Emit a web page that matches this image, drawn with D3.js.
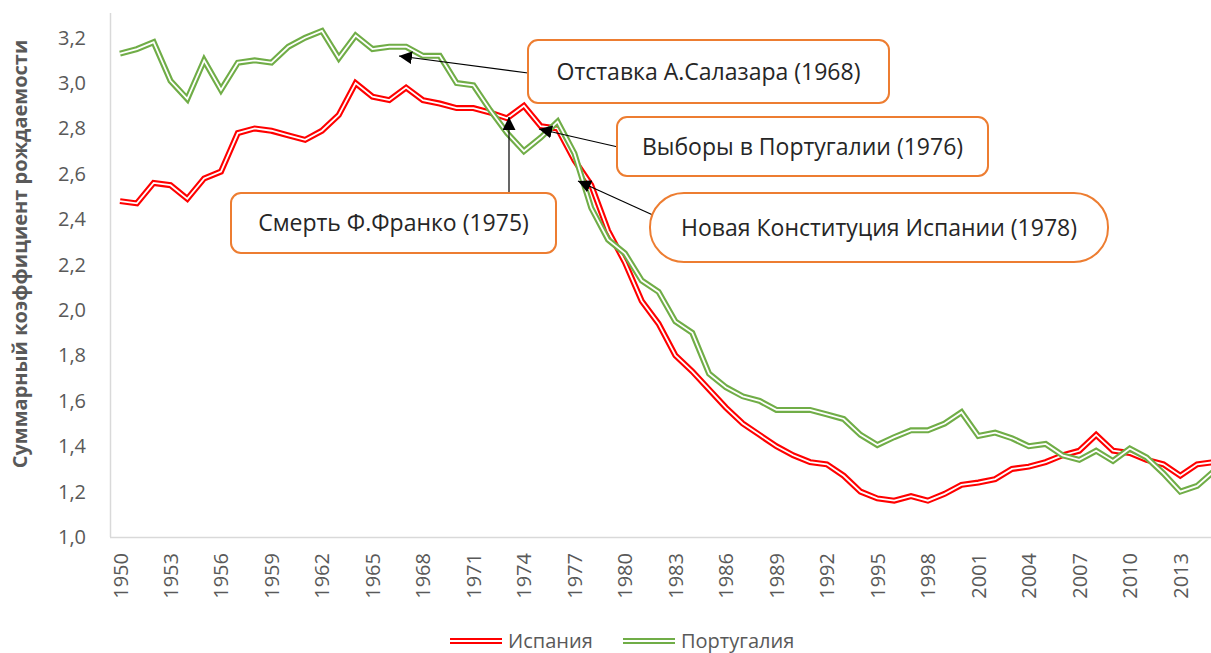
<!DOCTYPE html>
<html>
<head>
<meta charset="utf-8">
<script src="https://cdn.jsdelivr.net/npm/d3@7"></script>
<style>
  body { margin: 0; background: #fff; }
  svg { display: block; font-family: "Open Sans", sans-serif; }
</style>
</head>
<body>
<div id="chart"></div>
<script>
const width = 1211;
const height = 653;

// data
const years = d3.range(1950, 2016);
const spain = [
    2.48, 2.47, 2.56, 2.55, 2.49, 2.58, 2.61, 2.78, 2.80, 2.79,
    2.77, 2.75, 2.79, 2.86, 3.00, 2.94, 2.925, 2.98, 2.925, 2.91,
    2.89, 2.89, 2.87, 2.845, 2.90, 2.81, 2.80, 2.66, 2.55, 2.35,
    2.21, 2.04, 1.94, 1.80, 1.73, 1.65, 1.57, 1.50, 1.45, 1.40,
    1.36, 1.33, 1.32, 1.27, 1.20, 1.17, 1.16, 1.18, 1.16, 1.19,
    1.23, 1.24, 1.255, 1.30, 1.31, 1.33, 1.36, 1.38, 1.45, 1.38,
    1.37, 1.34, 1.32, 1.27, 1.32, 1.33
];
const portugal = [
    3.13, 3.15, 3.18, 3.01, 2.93, 3.10, 2.97, 3.09, 3.10, 3.09,
    3.16, 3.20, 3.23, 3.11, 3.21, 3.15, 3.16, 3.16, 3.12, 3.12,
    3.00, 2.99, 2.88, 2.78, 2.70, 2.76, 2.83, 2.69, 2.45, 2.31,
    2.25, 2.13, 2.08, 1.95, 1.90, 1.72, 1.66, 1.62, 1.60, 1.56,
    1.56, 1.56, 1.54, 1.52, 1.45, 1.405, 1.44, 1.47, 1.47, 1.50,
    1.55, 1.445, 1.46, 1.435, 1.40, 1.41, 1.36, 1.34, 1.38, 1.335,
    1.39, 1.35, 1.28, 1.20, 1.225, 1.29
];
const yTicks = [1.0, 1.2, 1.4, 1.6, 1.8, 2.0, 2.2, 2.4, 2.6, 2.8, 3.0, 3.2];
const xTicks = d3.range(1950, 2016, 3);
const seriesNames = ["Испания", "Португалия"];
const seriesColors = ["#ff0000", "#70ad47"];
const yTitle = "Суммарный коэффициент рождаемости";

const notes = [
    { text: "Отставка А.Салазара (1968)", box: [528, 40, 361, 63, 10], from: [528, 73], to: [399, 56] },
    { text: "Выборы в Португалии (1976)", box: [617, 117, 371, 59, 10], from: [618, 147], to: [539, 129] },
    { text: "Смерть Ф.Франко (1975)", box: [231, 193, 325, 60, 10], from: [509, 192], to: [509, 117] },
    { text: "Новая Конституция Испании (1978)", box: [650, 193, 458, 69, 34], from: [666, 221], to: [578, 181] }
];

const ruFormat = d3.formatLocale({ decimal: ",", thousands: " ", grouping: [3], currency: ["", ""] }).format(".1f");

let svg = d3.select("#chart").append("svg")
    .attr("width", width)
    .attr("height", height);

svg.append("rect").attr("width", width).attr("height", height).attr("fill", "#fff");

let xScale = d3.scaleLinear()
    .domain([1950, 2015])
    .range([120, 120 + 65 * 16.83]);

let yScale = d3.scaleLinear()
    .domain([1.0, 3.3])
    .range([537, 15]);

// axis lines
svg.append("line")
    .attr("x1", 110.5).attr("x2", 110.5)
    .attr("y1", 13).attr("y2", 537)
    .attr("stroke", "#d9d9d9").attr("stroke-width", 1.5);
svg.append("line")
    .attr("x1", 110).attr("x2", width)
    .attr("y1", 537.5).attr("y2", 537.5)
    .attr("stroke", "#d9d9d9").attr("stroke-width", 1.5);

let yAxis = svg.append("g")
    .attr("transform", "translate(110,0)")
    .call(d3.axisLeft(yScale).tickValues(yTicks).tickSize(0).tickPadding(24).tickFormat(ruFormat))
    .call(g => g.select(".domain").remove());
yAxis.selectAll("text")
    .attr("fill", "#595959")
    .style("font-size", "20px")
    .style("font-family", "Open Sans");

let xAxis = svg.append("g")
    .attr("transform", "translate(0,537)")
    .call(d3.axisBottom(xScale).tickValues(xTicks).tickSize(0).tickFormat(d => String(d)))
    .call(g => g.select(".domain").remove());
xAxis.selectAll("text")
    .attr("transform", "rotate(-90)")
    .attr("x", -16)
    .attr("y", 0)
    .attr("dy", "0.35em")
    .style("text-anchor", "end")
    .attr("fill", "#595959")
    .style("font-size", "20px")
    .style("font-family", "Open Sans");

svg.append("text")
    .attr("transform", "translate(20,254) rotate(-90)")
    .attr("text-anchor", "middle")
    .attr("dy", "0.35em")
    .attr("fill", "#595959")
    .style("font-size", "20px")
    .style("font-weight", "bold")
    .text(yTitle);

// lines, double stroke
let line = d3.line()
    .x((d, i) => xScale(years[i]))
    .y(d => yScale(d));

let plot = svg.append("g");
[spain, portugal].forEach((values, k) => {
    plot.append("path")
        .datum(values)
        .attr("fill", "none")
        .attr("stroke", seriesColors[k])
        .attr("stroke-width", 6)
        .attr("stroke-linejoin", "miter")
        .attr("d", line);
    plot.append("path")
        .datum(values)
        .attr("fill", "none")
        .attr("stroke", "#fff")
        .attr("stroke-width", 1.8)
        .attr("d", line);
});

// annotations
svg.append("defs").append("marker")
    .attr("id", "arrow")
    .attr("viewBox", "0 0 10 10")
    .attr("refX", 10)
    .attr("refY", 5)
    .attr("markerWidth", 13)
    .attr("markerHeight", 13)
    .attr("markerUnits", "userSpaceOnUse")
    .attr("orient", "auto")
    .append("path")
    .attr("d", "M0,0 L10,5 L0,10 Z")
    .attr("fill", "#000");

let noteG = svg.append("g");
notes.forEach(n => {
    noteG.append("line")
        .attr("x1", n.from[0]).attr("y1", n.from[1])
        .attr("x2", n.to[0]).attr("y2", n.to[1])
        .attr("stroke", "#000")
        .attr("stroke-width", 1.2)
        .attr("marker-end", "url(#arrow)");
    noteG.append("rect")
        .attr("x", n.box[0]).attr("y", n.box[1])
        .attr("width", n.box[2]).attr("height", n.box[3])
        .attr("rx", n.box[4])
        .attr("fill", "#fff")
        .attr("stroke", "#ed7d31")
        .attr("stroke-width", 2);
    noteG.append("text")
        .attr("x", n.box[0] + n.box[2] / 2)
        .attr("y", n.box[1] + n.box[3] / 2)
        .attr("dy", "0.35em")
        .attr("text-anchor", "middle")
        .attr("fill", "#262626")
        .style("font-size", "23px")
        .text(n.text);
});

// legend
let legend = svg.append("g");
const legendX = [450, 623];
seriesNames.forEach((name, k) => {
    let lg = legend.append("g").attr("transform", `translate(${legendX[k]},641)`);
    lg.append("line").attr("x1", 0).attr("x2", 52)
        .attr("stroke", seriesColors[k]).attr("stroke-width", 6);
    lg.append("line").attr("x1", 0).attr("x2", 52)
        .attr("stroke", "#fff").attr("stroke-width", 1.8);
    lg.append("text")
        .attr("x", 58)
        .attr("dy", "0.35em")
        .attr("fill", "#595959")
        .style("font-size", "20px")
        .text(name);
});
</script>
</body>
</html>
